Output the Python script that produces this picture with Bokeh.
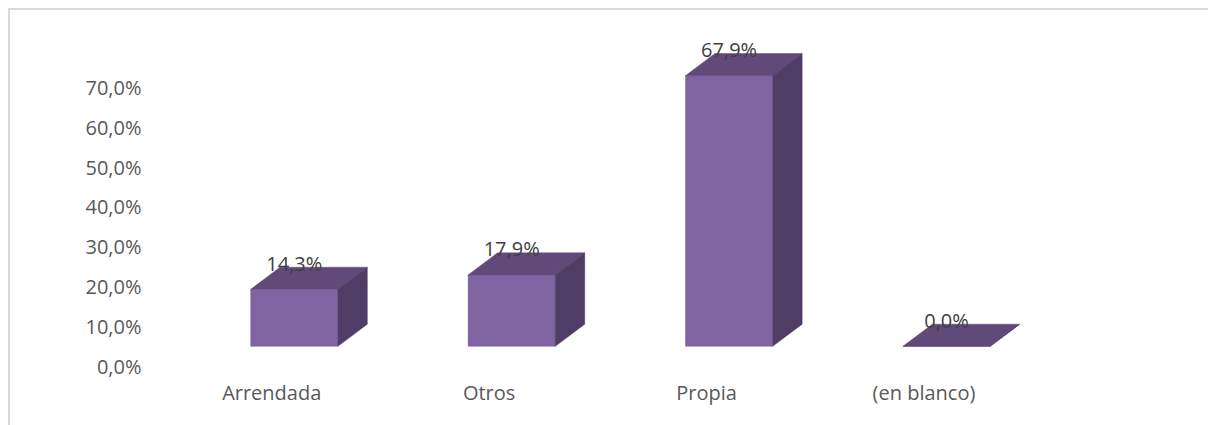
from bokeh.plotting import figure
from bokeh.models import Range1d, LinearAxis, FixedTicker
from bokeh.core.properties import value
from bokeh.embed import file_html
from bokeh.resources import INLINE

# ---- data ----
categories = ["Arrendada", "Otros", "Propia", "(en blanco)"]
values = [14.3, 17.9, 67.9, 0.0]
y_ticks = [0, 10, 20, 30, 40, 50, 60, 70]
y_tick_labels = ["0,0%", "10,0%", "20,0%", "30,0%", "40,0%", "50,0%", "60,0%", "70,0%"]

# ---- style / geometry ----
FRONT = "#8064A2"
TOP = "#5F4A7A"
SIDE = "#4F3D66"
FONT = "Open Sans"
PX_X = 217.0      # px per category
PX_Y = 3.965      # px per percent
off = 22.5 / PX_X # front face offset from category tick
hw = 43.5 / PX_X  # half width of front face
dx = 29.4 / PX_X  # depth in x
dy = 22.0 / PX_Y  # depth in y

W, H = 1200, 417
FT, FB = 12, 372  # frame top / bottom (page px)
x0 = (151 - 272) / PX_X
x1 = (1209 - 272) / PX_X
p = figure(width=W, height=H, output_backend="svg", toolbar_location=None,
           x_range=Range1d(x0, x1),
           y_range=Range1d((346 - FB) / PX_Y, (346 - FT) / PX_Y),
           y_axis_location=None,
           min_border_left=140, min_border_right=0, min_border_top=0,
           min_border_bottom=55)
p.extra_y_ranges = {"pct": Range1d((366 - FB) / PX_Y, (366 - FT) / PX_Y)}
p.styles = {"margin-left": "8px", "margin-top": "8px",
            "border-top": "2px solid #d9d9d9", "border-left": "2px solid #d9d9d9"}
p.outline_line_color = None
p.xgrid.visible = False
p.ygrid.visible = False
p.background_fill_color = "white"

xs_c = [i + off for i in range(len(categories))]

# front faces
p.quad(left=[c - hw for c in xs_c], right=[c + hw for c in xs_c],
       bottom=[0] * len(values), top=values,
       fill_color=FRONT, line_color=FRONT, line_width=0.5)

# top faces
top_xs = [[c - hw, c + hw, c + hw + dx, c - hw + dx] for c in xs_c]
top_ys = [[v, v, v + dy, v + dy] for v in values]
p.patches(top_xs, top_ys, fill_color=TOP, line_color=TOP, line_width=0.5)

# side faces
side_xs = [[c + hw, c + hw + dx, c + hw + dx, c + hw] for c in xs_c]
side_ys = [[0, dy, v + dy, v] for v in values]
p.patches(side_xs, side_ys, fill_color=SIDE, line_color=SIDE, line_width=0.5)

# data labels
labels = [f"{v:.1f}".replace(".", ",") + "%" for v in values]
p.text(x=xs_c, y=[v + dy + 1.0 for v in values], text=labels,
       text_font=value(FONT), text_font_size="20px", text_color="#404040",
       text_align="center", text_baseline="middle")

# axes
p.xaxis.ticker = FixedTicker(ticks=list(range(len(categories))))
p.xaxis.major_label_overrides = {i: c for i, c in enumerate(categories)}
p.xaxis.axis_line_color = None
p.xaxis.major_tick_line_color = None
p.xaxis.minor_tick_line_color = None
p.xaxis.major_label_text_font = FONT
p.xaxis.major_label_text_font_size = "20px"
p.xaxis.major_label_text_color = "#595959"
p.xaxis.major_label_standoff = 0

yax = LinearAxis(y_range_name="pct", ticker=FixedTicker(ticks=y_ticks),
                 major_label_overrides=dict(zip(y_ticks, y_tick_labels)))
yax.axis_line_color = None
yax.major_tick_line_color = None
yax.minor_tick_line_color = None
yax.major_label_text_font = FONT
yax.major_label_text_font_size = "20px"
yax.major_label_text_color = "#595959"
yax.major_label_standoff = 3
p.add_layout(yax, "left")

open("out.html", "w").write(file_html(p, INLINE))
